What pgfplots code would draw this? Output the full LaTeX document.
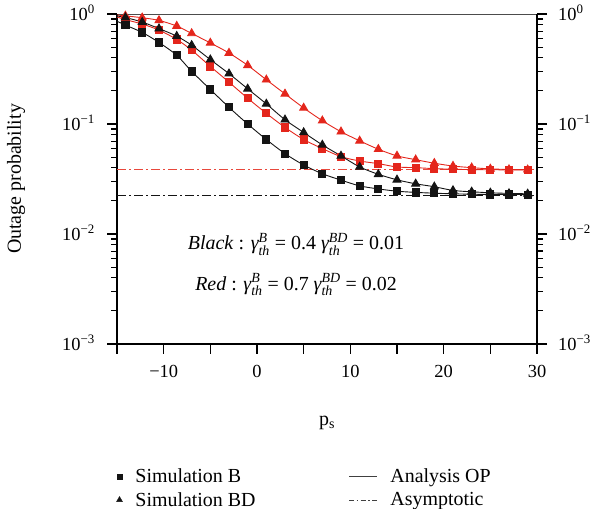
\documentclass[border=0pt]{standalone}
\usepackage{amsmath}
\usepackage{fontspec}
\setmainfont{Liberation Serif}
\usepackage{pgfplots}
\usepackage{pgfplotstable}
\pgfplotsset{compat=1.18}

\definecolor{myred}{RGB}{228,38,28}
\definecolor{asyred}{RGB}{232,72,60}
\definecolor{myblack}{RGB}{20,20,20}

% x, black squares (sim B), black triangles (sim BD), red squares, red triangles
\pgfplotstableread{
x      bs      bt      rs      rt
-15    0.860   0.960   0.940   0.980
-14.1  0.793   0.929   0.890   0.962
-12.3  0.680   0.845   0.810   0.925
-10.5  0.551   0.737   0.714   0.875
-8.6   0.4215  0.629   0.587   0.777
-7     0.301   0.520   0.469   0.666
-5     0.206   0.385   0.334   0.546
-3     0.1418  0.287   0.240   0.442
-1     0.100   0.209   0.1715  0.3415
1      0.0723  0.1524  0.125   0.2526
3      0.0538  0.1094  0.0931  0.188
5      0.0424  0.0838  0.0723  0.140
7      0.0353  0.0646  0.0598  0.1072
9      0.0309  0.0513  0.0505  0.0851
11     0.0274  0.0407  0.0461  0.0703
13     0.0257  0.0349  0.0436  0.0590
15     0.0245  0.0311  0.0407  0.0513
17     0.0239  0.0286  0.0401  0.0474
19     0.0235  0.0269  0.0393  0.0440
21     0.0232  0.0249  0.0388  0.0415
23     0.0230  0.0242  0.0385  0.0401
25     0.0229  0.0237  0.0384  0.0391
27     0.0229  0.0234  0.0383  0.0386
29     0.0228  0.0232  0.0383  0.0384
}\optable

\pgfplotsset{
  myframe/.style={
    at={(117bp,165bp)}, anchor=south west,
    scale only axis, width=420bp, height=330bp,
    xmin=-15, xmax=30, ymin=1e-3, ymax=1,
    tick align=outside,
    major tick length=10bp, minor tick length=6bp,
    major tick style={black, line width=1.5bp},
    minor tick style={black, line width=1.1bp},
    ytick={0.001,0.01,0.1,1},
    yticklabels={10\textsuperscript{−3},10\textsuperscript{−2},10\textsuperscript{−1},10\textsuperscript{0}},
    minor ytick={0.002,0.003,0.004,0.005,0.006,0.007,0.008,0.009,
                 0.02,0.03,0.04,0.05,0.06,0.07,0.08,0.09,
                 0.2,0.3,0.4,0.5,0.6,0.7,0.8,0.9},
    tick label style={font=\fontsize{18.5}{22}\selectfont},
    label style={font=\fontsize{20}{24}\selectfont},
  },
}

\begin{document}
\begin{tikzpicture}[font=\fontsize{20}{24}\selectfont]
\useasboundingbox (0,0) rectangle (591bp,509bp);

% right axis and thin top line
\begin{semilogyaxis}[myframe,
  axis x line*=top, axis y line*=right,
  x axis line style={line width=0.9bp, black!70},
  y axis line style={line width=1.6bp, black},
  xtick=\empty,
  yticklabel style={anchor=base west, inner sep=0pt, xshift=11bp, yshift=-6bp},
]
\end{semilogyaxis}

\begin{semilogyaxis}[myframe,
  axis x line*=bottom, axis y line*=left,
  axis line style={line width=1.6bp, black},
  xtick={-15,-10,...,30},
  xticklabels={,−10,,0,,10,,20,,30},
  xticklabel style={anchor=center, yshift=-17bp},
  yticklabel style={anchor=base east, inner sep=0pt, xshift=-12bp, yshift=-6bp},
  xlabel={p\textsubscript{s}},
  xlabel style={at={(axis description cs:0.5,-0.2455)}, anchor=base},
  ylabel={Outage probability},
  ylabel style={at={(axis description cs:-0.2405,0.5)}, anchor=center},
  legend columns=2, legend cell align=left,
  legend style={
    at={(axis description cs:-0.0015,-0.372)}, anchor=north west,
    draw=none, fill=none, inner sep=0pt,
    row sep=4bp,
    font=\fontsize{20}{24}\selectfont,
    /tikz/every odd column/.append style={column sep=11bp},
    /tikz/every even column/.append style={column sep=91bp},
  },
]
% asymptotes
\addplot[asyred, line width=1.2bp, dash pattern=on 9bp off 3bp on 2bp off 3bp, forget plot]
  coordinates {(-15,0.0384) (30,0.0384)};
\addplot[myblack, line width=0.9bp, dash pattern=on 9bp off 3bp on 2bp off 3bp, forget plot]
  coordinates {(-15,0.02245) (30,0.02245)};

% red series
\addplot[myred, line width=0.9bp, smooth, mark=triangle*, mark size=4.6bp,
  mark repeat=1, mark phase=2, mark options={solid, fill=myred}, forget plot]
  table[x=x, y=rt]{\optable};
\addplot[myred, line width=0.9bp, smooth, mark=square*, mark size=3.6bp,
  mark repeat=1, mark phase=2, mark options={solid, fill=myred}, forget plot]
  table[x=x, y=rs]{\optable};

% black series
\addplot[myblack, line width=0.9bp, smooth, mark=triangle*, mark size=4.6bp,
  mark repeat=1, mark phase=2, mark options={solid, fill=myblack}, forget plot]
  table[x=x, y=bt]{\optable};
\addplot[myblack, line width=0.9bp, smooth, mark=square*, mark size=3.6bp,
  mark repeat=1, mark phase=2, mark options={solid, fill=myblack}, forget plot]
  table[x=x, y=bs]{\optable};

% legend
\addlegendimage{only marks, mark=square*, mark size=2.8bp, myblack}
\addlegendentry{Simulation B}
\addlegendimage{legend image code/.code={\draw[black!75, line width=0.9bp] (0bp,0bp) -- (28bp,0bp);}}
\addlegendentry{Analysis OP}
\addlegendimage{only marks, mark=triangle*, mark size=3.4bp, myblack}
\addlegendentry{Simulation BD}
\addlegendimage{legend image code/.code={\draw[black!75, line width=0.8bp, dash pattern=on 5bp off 2.5bp on 1.5bp off 2.5bp] (0bp,0bp) -- (28bp,0bp);}}
\addlegendentry{Asymptotic}

\node at (axis cs:4.18,0.00803) {\textit{Black} : $\textit{γ}^{\textit{B}}_{\textit{th}}$ = 0.4 $\textit{γ}^{\textit{BD}}_{\textit{th}}$ = 0.01};
\node at (axis cs:4.18,0.00346) {\textit{Red} : $\textit{γ}^{\textit{B}}_{\textit{th}}$ = 0.7 $\textit{γ}^{\textit{BD}}_{\textit{th}}$ = 0.02};
\end{semilogyaxis}
\end{tikzpicture}
\end{document}
